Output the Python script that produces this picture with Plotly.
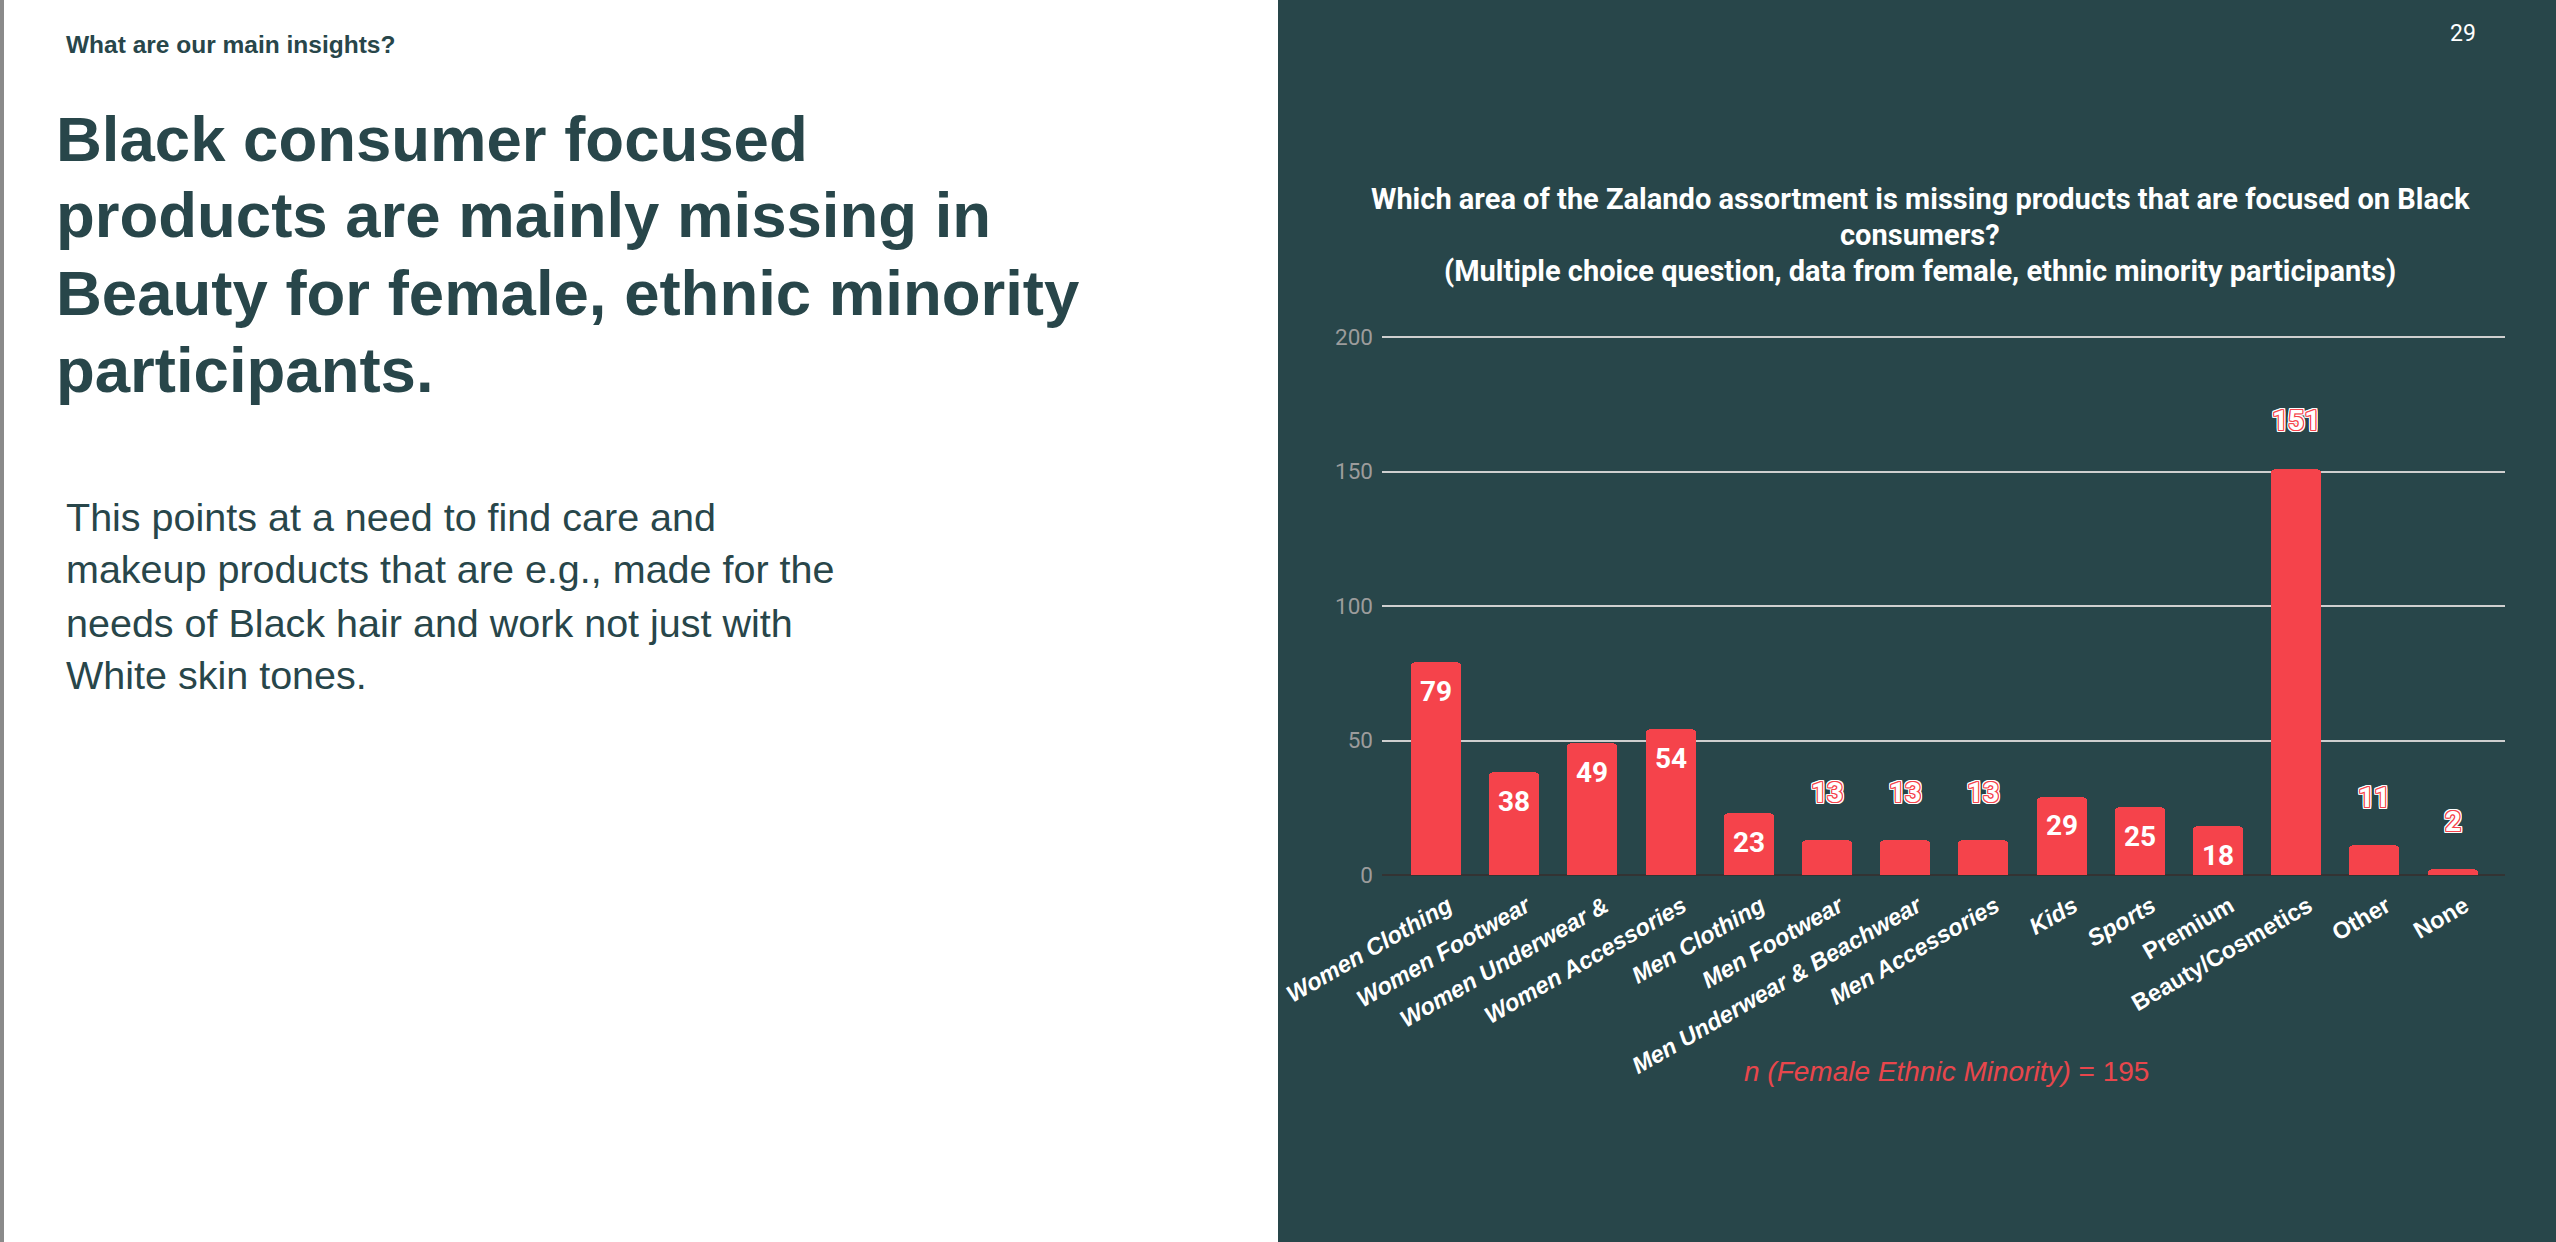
import plotly.graph_objects as go

# ---------------- data ----------------
categories = ["Women Clothing", "Women Footwear", "Women Underwear &", "Women Accessories",
              "Men Clothing", "Men Footwear", "Men Underwear & Beachwear", "Men Accessories",
              "Kids", "Sports", "Premium", "Beauty/Cosmetics", "Other", "None"]
values = [79, 38, 49, 54, 23, 13, 13, 13, 29, 25, 18, 151, 11, 2]
italic_labels = ["Women Clothing", "Women Footwear", "Women Underwear &", "Women Accessories",
                 "Men Clothing", "Men Footwear", "Men Underwear & Beachwear", "Men Accessories",
                 "Kids", "Sports"]
y_ticks = [0, 50, 100, 150, 200]

chart_title = ["Which area of the Zalando assortment is missing products that are focused on Black",
               "consumers?",
               "(Multiple choice question, data from female, ethnic minority participants)"]
kicker = "What are our main insights?"
heading = ["Black consumer focused", "products are mainly missing in",
           "Beauty for female, ethnic minority", "participants."]
body = ["This points at a need to find care and", "makeup products that are e.g., made for the",
        "needs of Black hair and work not just with", "White skin tones."]
note = "<i>n (Female Ethnic Minority)</i> = 195"
page_no = "29"

# ---------------- style ----------------
W, H = 2556, 1242
DARK = "#28464a"
RED = "#f5434b"
TEXT_DARK = "#28464a"

def px_x(p):
    return p / W

def px_y(p):
    return 1 - p / H

Y0_PX, Y200_PX = 875, 337
YMAX = 201
ppu = (Y0_PX - Y200_PX) / 200.0
top_px = Y0_PX - YMAX * ppu

fig = go.Figure()

fig.add_trace(go.Bar(
    x=categories, y=values, width=0.64,
    marker=dict(color=RED, line=dict(width=0), cornerradius=4),
    hoverinfo="skip",
))

ticktext = [(f"<i>{c}</i>" if c in italic_labels else c).replace("&", "&amp;") for c in categories]

fig.update_layout(
    width=W, height=H,
    margin=dict(l=0, r=0, t=0, b=0),
    paper_bgcolor="white",
    plot_bgcolor=DARK,
    showlegend=False,
    bargap=0,
    xaxis=dict(
        domain=[px_x(1382), px_x(2505)],
        range=[-0.69, 13.67],
        type="category",
        categoryorder="array", categoryarray=categories,
        tickvals=categories, ticktext=ticktext,
        tickangle=-30,
        tickfont=dict(family="Liberation Sans, Arial, sans-serif", size=23.5, color="white", weight="bold"),
        ticklabelstandoff=12, ticklabelshift=12,
        showgrid=False, showline=False, ticks="", automargin=False,
    ),
    yaxis=dict(
        domain=[px_y(Y0_PX), px_y(top_px)],
        range=[0, YMAX],
        tickvals=y_ticks,
        tickfont=dict(family="Roboto, sans-serif", size=22.5, color="#9c9c9c"),
        ticklabelstandoff=8,
        showgrid=True, gridcolor="#cfcfcf", gridwidth=1.5,
        zeroline=True, zerolinecolor="#333333", zerolinewidth=2,
        showline=False, ticks="", automargin=False,
    ),
)

shapes = [
    dict(type="rect", xref="paper", yref="paper", x0=px_x(1278), x1=1, y0=0, y1=1,
         fillcolor=DARK, line=dict(width=0), layer="below"),
    dict(type="rect", xref="paper", yref="paper", x0=0, x1=px_x(4), y0=0, y1=1,
         fillcolor="#8a8a8a", line=dict(width=0), layer="below"),
]
fig.update_layout(shapes=shapes)

ann = []
# value labels
vmax = max(values)
red_ring = [f"{dx}px {dy}px 0 {RED}" for dx in (-1, 0, 1) for dy in (-1, 0, 1) if (dx, dy) != (0, 0)]
white_ring = [f"{dx}px {dy}px 0 white" for dx in (-2, -1, 0, 1, 2) for dy in (-2, -1, 0, 1, 2)
              if max(abs(dx), abs(dy)) == 2]
outline = ", ".join(red_ring + white_ring)
for c, v in zip(categories, values):
    outside = v < 15 or v == vmax
    if outside:
        ann.append(dict(x=c, y=v, xref="x", yref="y", text=f"<b>{v}</b>", showarrow=False,
                        yanchor="middle", yshift=48,
                        font=dict(family="Roboto, sans-serif", size=28, color="white", shadow=outline)))
    else:
        ann.append(dict(x=c, y=v, xref="x", yref="y", text=f"<b>{v}</b>", showarrow=False,
                        yanchor="middle", yshift=-29,
                        font=dict(family="Roboto, sans-serif", size=28, color="white")))

# chart title
for line, yc in zip(chart_title, [199, 235, 271]):
    ann.append(dict(x=px_x(1920), y=px_y(yc), xref="paper", yref="paper", text=f"<b>{line}</b>",
                    showarrow=False, xanchor="center", yanchor="middle",
                    font=dict(family="Roboto, sans-serif", size=29, color="white")))

# page number
ann.append(dict(x=px_x(2463), y=px_y(33), xref="paper", yref="paper", text=page_no,
                showarrow=False, xanchor="center", yanchor="middle",
                font=dict(family="Roboto, sans-serif", size=23, color="white")))

# note
ann.append(dict(x=px_x(1946), y=px_y(1071), xref="paper", yref="paper", text=note,
                showarrow=False, xanchor="center", yanchor="middle",
                font=dict(family="Liberation Sans, Arial, sans-serif", size=28, color="#e8464c")))

# left panel
ann.append(dict(x=px_x(64), y=px_y(44), xref="paper", yref="paper", text=f"<b>{kicker}</b>",
                showarrow=False, xanchor="left", yanchor="middle",
                font=dict(family="Liberation Sans, Arial, sans-serif", size=24.5, color=TEXT_DARK)))
for line, yc in zip(heading, [139, 215, 293, 370]):
    ann.append(dict(x=px_x(54), y=px_y(yc), xref="paper", yref="paper", text=f"<b>{line}</b>",
                    showarrow=False, xanchor="left", yanchor="middle",
                    font=dict(family="Liberation Sans, Arial, sans-serif", size=63.5, color=TEXT_DARK)))
for line, yc in zip(body, [517, 569, 623, 675]):
    ann.append(dict(x=px_x(64), y=px_y(yc), xref="paper", yref="paper", text=line,
                    showarrow=False, xanchor="left", yanchor="middle",
                    font=dict(family="Liberation Sans, Arial, sans-serif", size=39.5, color=TEXT_DARK)))

fig.update_layout(annotations=ann)

fig.write_html("out.html", config={"displayModeBar": False})
